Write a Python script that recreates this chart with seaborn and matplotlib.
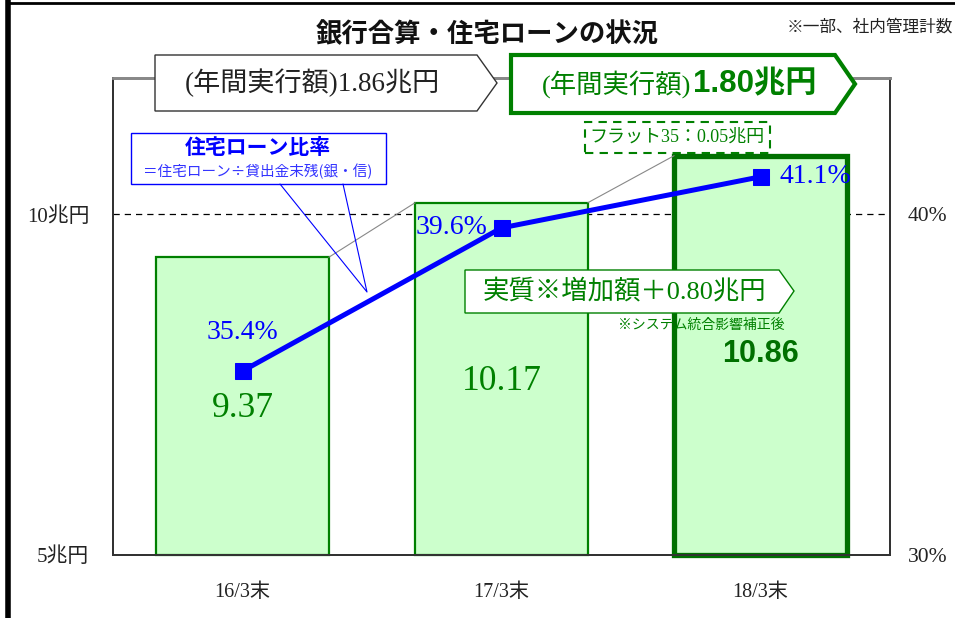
import numpy as np
import matplotlib
matplotlib.use('Agg')
import matplotlib.pyplot as plt
import seaborn as sns
from matplotlib.patches import Polygon, Rectangle
from matplotlib.lines import Line2D

# data
periods = ['16/3末', '17/3末', '18/3末']
balances = [9.37, 10.17, 10.86]          # 兆円
ratios = [35.4, 39.6, 41.1]              # 住宅ローン比率 %
left_ticks = [5, 10]
left_tick_labels = ['5兆円', '10兆円']
right_ticks = [30, 40]
right_tick_labels = ['30%', '40%']

# layout helpers (pixel positions on the 955x618 canvas)
W, H = 955, 618
def fx(x):
    return x / W
def fy(y):
    return 1 - y / H
def pts(points):
    return [(fx(x), fy(y)) for x, y in points]

GREEN = '#008000'
DKGREEN = '#007000'
BLUE = '#0000FF'
SERIF = ['Liberation Serif', 'Noto Sans CJK JP']
SANS = ['Noto Sans CJK JP']

sns.set_theme(style='white')
plt.rcParams['font.family'] = SERIF

fig = plt.figure(figsize=(9.55, 6.18), dpi=100)
ax = fig.add_axes([113 / W, 1 - 555 / H, (890 - 113) / W, (555 - 78) / H])

bar_w = 0.667
sns.barplot(x=periods, y=balances, color='#CCFFCC', saturation=1, width=bar_w,
            edgecolor=GREEN, linewidth=1.6, ax=ax, zorder=2)
ax.set_xlim(-0.5, 2.5)
ax.set_ylim(5, 12)
# start bars at the axis floor so the bottom edge shows on the spine
for p, v in zip(ax.patches, balances):
    p.set_y(5)
    p.set_height(v - 5)
    p.set_clip_on(False)
ax.patches[2].set_linewidth(3.8)
ax.patches[2].set_edgecolor(DKGREEN)

ax.set_yticks(left_ticks)
ax.set_yticklabels(left_tick_labels)
ax.set_xlabel('')
ax.set_ylabel('')
ax.axhline(10, color='black', lw=0.9, ls=(0, (5, 4)), zorder=0.5)
ax.tick_params(axis='y', length=0, pad=17, labelsize=15, colors='#222222')
ax.tick_params(axis='x', length=0, pad=20, labelsize=14.5, colors='#222222')

# thin gray connectors between bar tops
for i in range(len(balances) - 1):
    ax.plot([i + bar_w / 2, i + 1 - bar_w / 2], [balances[i], balances[i + 1]],
            color='#888888', lw=0.8, zorder=3)

# bar value labels
label_y = [7.15, 7.55, 7.95]
for i, v in enumerate(balances):
    if i == 2:
        ax.text(i, label_y[i], f'{v:.2f}', ha='center', va='center', fontsize=22,
                fontweight='bold', color=DKGREEN, family=['Liberation Sans'], zorder=4)
    else:
        ax.text(i, label_y[i], f'{v:.2f}', ha='center', va='center', fontsize=25.5,
                color=GREEN, zorder=4)

ax2 = ax.twinx()
sns.lineplot(x=np.arange(len(ratios)), y=ratios, ax=ax2, color=BLUE, lw=3.6,
             marker='s', markersize=11, markeredgecolor=BLUE, zorder=5)
ax2.set_xlim(-0.5, 2.5)
ax2.set_ylim(30, 44)
ax2.set_yticks(right_ticks)
ax2.set_yticklabels(right_tick_labels)
ax2.set_ylabel('')
ax2.tick_params(axis='y', length=0, pad=13, labelsize=15.5, colors='#222222')

ratio_offsets = [(0, 28), (-10, 0), (14, 0)]
ratio_ha = ['center', 'right', 'left']
for i, r in enumerate(ratios):
    ax2.annotate(f'{r}%', xy=(i, r), xytext=ratio_offsets[i], textcoords='offset points',
                 ha=ratio_ha[i], va='center', fontsize=20, color=BLUE)

for a in (ax, ax2):
    for side in ('left', 'right', 'bottom'):
        a.spines[side].set_color('#333333')
        a.spines[side].set_linewidth(1.4)
    a.spines['top'].set_color('#888888')
    a.spines['top'].set_linewidth(2)

# page frame
fig.add_artist(Line2D([fx(8), fx(8)], [0, 1], color='black', lw=4))
fig.add_artist(Line2D([fx(8), 1], [fy(3), fy(3)], color='black', lw=2))

# title and note
fig.text(fx(487), fy(35), '銀行合算・住宅ローンの状況', ha='center', va='center',
         fontsize=19, fontweight='bold', family=SANS, color='#111111')
fig.text(fx(953), fy(27), '※一部、社内管理計数', ha='right', va='center',
         fontsize=12, family=SANS, color='#222222')

# annual execution boxes
fig.add_artist(Polygon(pts([(155, 55), (477, 55), (497, 83), (477, 111), (155, 111)]),
                       closed=True, facecolor='white', edgecolor='#333333', lw=1,
                       transform=fig.transFigure, zorder=5))
fig.text(fx(312), fy(83), '(年間実行額)1.86兆円', ha='center', va='center',
         fontsize=19.5, color='#222222', zorder=6)
fig.add_artist(Polygon(pts([(511, 55), (835, 55), (855, 84), (835, 113), (511, 113)]),
                       closed=True, facecolor='white', edgecolor=GREEN, lw=3,
                       transform=fig.transFigure, zorder=5))
fig.text(fx(691), fy(84), '(年間実行額)', ha='right', va='center',
         fontsize=19, color=GREEN, zorder=6)
fig.text(fx(693), fy(84), '1.80兆円', ha='left', va='center', fontsize=22.5,
         fontweight='bold', color=GREEN, family=['Liberation Sans', 'Noto Sans CJK JP'], zorder=6)

# ratio callout
fig.add_artist(Rectangle((fx(131), fy(184)), (386 - 131) / W, (184 - 133) / H,
                         facecolor='white', edgecolor=BLUE, lw=1,
                         transform=fig.transFigure, zorder=5))
fig.text(fx(258), fy(148), '住宅ローン比率', ha='center', va='center', fontsize=15,
         fontweight='bold', color=BLUE, family=SANS, zorder=6)
fig.text(fx(258), fy(171), '＝住宅ローン÷貸出金末残(銀・信)', ha='center', va='center',
         fontsize=10.5, color='#3333FF', family=SANS, zorder=6)
fig.add_artist(Line2D([fx(280), fx(367), fx(343)], [fy(184), fy(292), fy(184)],
                      color=BLUE, lw=0.8, zorder=6))

# flat 35 box
fig.add_artist(Rectangle((fx(585), fy(153)), (770 - 585) / W, (153 - 122) / H,
                         facecolor='white', edgecolor=GREEN, lw=1.5, ls=(0, (4, 3)),
                         transform=fig.transFigure, zorder=5))
fig.text(fx(677), fy(137), 'フラット35：0.05兆円', ha='center', va='center',
         fontsize=13, color=GREEN, zorder=6)

# real increase arrow
fig.add_artist(Polygon(pts([(465, 270), (779, 270), (794, 291), (779, 313), (465, 313)]),
                       closed=True, facecolor='white', edgecolor=GREEN, lw=1,
                       transform=fig.transFigure, zorder=5))
fig.text(fx(624), fy(291), '実質※増加額＋0.80兆円', ha='center', va='center',
         fontsize=19, color=GREEN, zorder=6)
fig.text(fx(701), fy(325), '※システム統合影響補正後', ha='center', va='center',
         fontsize=10, color=GREEN, family=SANS, zorder=6)

fig.savefig('out.png', dpi=100)
